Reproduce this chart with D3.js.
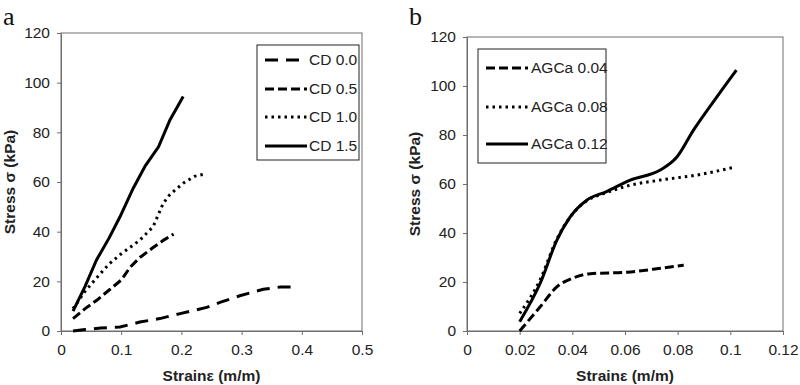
<!DOCTYPE html>
<html><head><meta charset="utf-8">
<script src="https://cdn.jsdelivr.net/npm/d3@7"></script>
<style>
html,body{margin:0;padding:0;background:#fff;}
svg{display:block;}
text{font-family:"Liberation Sans",Arial,sans-serif;}
</style></head>
<body>
<svg id="chart" width="800" height="385"></svg>
<script>
// ---------- Data ----------
const xTicksA = [0, 0.1, 0.2, 0.3, 0.4, 0.5];
const yTicks = [0, 20, 40, 60, 80, 100, 120];
const xTicksB = [0, 0.02, 0.04, 0.06, 0.08, 0.1, 0.12];

const seriesNamesA = ["CD 0.0", "CD 0.5", "CD 1.0", "CD 1.5"];
const cd00 = [[0.02,0],[0.04,0.6],[0.066,1.2],[0.098,1.6],[0.131,3.6],[0.164,5],[0.198,7],[0.242,9.5],[0.264,11.5],[0.297,14.2],[0.336,16.8],[0.364,17.7],[0.391,17.8]];
const cd05 = [[0.02,5],[0.04,9],[0.06,12.5],[0.08,16.5],[0.1,20.5],[0.115,25.7],[0.131,29.6],[0.153,33.6],[0.17,36.5],[0.187,39]];
const cd10 = [[0.02,9],[0.04,16],[0.065,23],[0.08,27],[0.098,30.7],[0.131,36.6],[0.153,42],[0.17,51.5],[0.181,55],[0.203,59.5],[0.222,62.3],[0.242,63.4]];
const cd15 = [[0.02,8],[0.04,18],[0.059,28.6],[0.08,37.5],[0.098,46],[0.12,57.5],[0.14,66.5],[0.162,74.2],[0.181,85],[0.203,94.4]];

const seriesNamesB = ["AGCa 0.04", "AGCa 0.08", "AGCa 0.12"];
const agca004 = [[0.02,0],[0.0278,9.9],[0.0341,18],[0.0405,21.7],[0.0468,23.4],[0.0608,24],[0.0734,25.6],[0.0823,26.9]];
const agca008 = [[0.02,7.2],[0.0278,21],[0.0341,37.5],[0.0392,46.6],[0.0456,53.2],[0.053,56.5],[0.062,59.5],[0.0734,61.6],[0.0886,63.9],[0.102,67]];
const agca012 = [[0.02,3.8],[0.0278,19.5],[0.0341,37],[0.0392,46.6],[0.0456,53.5],[0.053,56.9],[0.062,61.6],[0.0734,65.7],[0.0797,71],[0.086,82],[0.0949,95.6],[0.1023,106.5]];

// ---------- Styles ----------
const dashes = {
  longdash: "13,8",
  dash: "9,4",
  dot: "2.5,4",
  solid: null
};
const FS = "15.5px";

const svg = d3.select("#chart");

function panel(cfg) {
  const g = svg.append("g");
  const x = d3.scaleLinear().domain(cfg.xDomain).range([cfg.left, cfg.right]);
  const y = d3.scaleLinear().domain([0, 120]).range([cfg.bottom, cfg.top]);

  g.append("rect").attr("x", cfg.left).attr("y", cfg.top)
    .attr("width", cfg.right - cfg.left).attr("height", cfg.bottom - cfg.top)
    .attr("fill", "none").attr("stroke", "#6e6e6e").attr("stroke-width", 1);

  const xAxis = g.append("g").attr("transform", `translate(0,${cfg.bottom})`)
    .call(d3.axisBottom(x).tickValues(cfg.xTicks).tickSize(4).tickPadding(9).tickFormat(d => String(d)));
  const yAxis = g.append("g").attr("transform", `translate(${cfg.left},0)`)
    .call(d3.axisLeft(y).tickValues(yTicks).tickSize(4).tickPadding(7).tickFormat(d => String(d)));
  [xAxis, yAxis].forEach(a => {
    a.select(".domain").attr("stroke", "#6e6e6e");
    a.selectAll(".tick line").attr("stroke", "#6e6e6e");
    a.selectAll(".tick text").attr("fill", "#222").style("font-size", FS)
      .style("font-family", "'Liberation Sans', Arial, sans-serif");
  });

  const line = d3.line().x(d => x(d[0])).y(d => y(d[1])).curve(cfg.curve);
  cfg.series.forEach(s => {
    g.append("path").datum(s.data).attr("d", line)
      .attr("fill", "none").attr("stroke", "#000").attr("stroke-width", 3)
      .attr("stroke-dasharray", dashes[s.style]);
  });

  const L = cfg.legend;
  g.append("rect").attr("x", L.x).attr("y", L.y).attr("width", L.w).attr("height", L.h)
    .attr("fill", "#fff").attr("stroke", "#222").attr("stroke-width", 1);
  cfg.series.forEach((s, i) => {
    const yy = L.rows[i];
    g.append("line").attr("x1", L.lx1).attr("x2", L.lx2).attr("y1", yy).attr("y2", yy)
      .attr("stroke", "#000").attr("stroke-width", 3).attr("stroke-dasharray", dashes[s.style]);
    g.append("text").attr("x", L.tx).attr("y", yy).attr("dy", "0.35em")
      .style("font-size", FS).attr("fill", "#222").text(s.name);
  });

  g.append("text").attr("x", (cfg.left + cfg.right) / 2).attr("y", 381)
    .attr("text-anchor", "middle").style("font-size", FS).style("font-weight", "bold")
    .attr("fill", "#222").text("Strainε (m/m)");
  g.append("text").attr("transform", `translate(${cfg.yTitleX},${(cfg.top + cfg.bottom) / 2}) rotate(-90)`)
    .attr("text-anchor", "middle").style("font-size", FS).style("font-weight", "bold")
    .attr("fill", "#222").text("Stress σ (kPa)");

  g.append("text").attr("x", cfg.labelX).attr("y", 25)
    .style("font-family", "'Liberation Serif','Times New Roman',serif").style("font-size", "26px")
    .attr("fill", "#111").text(cfg.label);
}

panel({
  label: "a", labelX: 3,
  left: 61, right: 362, top: 33, bottom: 331,
  xDomain: [0, 0.5], xTicks: xTicksA, yTitleX: 15,
  curve: d3.curveLinear,
  series: [
    {name: seriesNamesA[0], data: cd00, style: "longdash"},
    {name: seriesNamesA[1], data: cd05, style: "dash"},
    {name: seriesNamesA[2], data: cd10, style: "dot"},
    {name: seriesNamesA[3], data: cd15, style: "solid"}
  ],
  legend: {x: 257, y: 45, w: 102, h: 115, lx1: 265, lx2: 307, tx: 309, rows: [60, 89, 117, 146]}
});

panel({
  label: "b", labelX: 409,
  left: 467, right: 783, top: 37, bottom: 331,
  xDomain: [0, 0.12], xTicks: xTicksB, yTitleX: 420,
  curve: d3.curveMonotoneX,
  series: [
    {name: seriesNamesB[0], data: agca004, style: "dash"},
    {name: seriesNamesB[1], data: agca008, style: "dot"},
    {name: seriesNamesB[2], data: agca012, style: "solid"}
  ],
  legend: {x: 478, y: 49, w: 128, h: 114, lx1: 486, lx2: 528, tx: 531, rows: [68, 107, 144]}
});
</script>
</body></html>
